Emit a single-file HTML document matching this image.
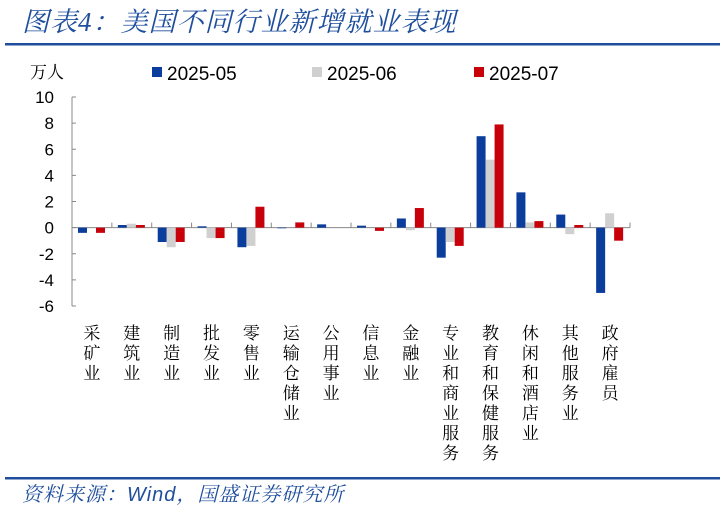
<!DOCTYPE html>
<html><head><meta charset="utf-8"><style>
body{margin:0;background:#fff;}
.sans{font-family:"Liberation Sans","Noto Sans CJK SC",sans-serif;}
.serif{font-family:"Liberation Serif","Noto Serif CJK SC",serif;}
</style></head><body>
<svg id="c" width="720" height="507" xmlns="http://www.w3.org/2000/svg">
<text class="serif" x="22" y="31" font-size="27" font-style="italic" fill="#1f4e9c" letter-spacing="1">图表4：美国不同行业新增就业表现</text>
<rect x="5" y="43" width="715" height="2.5" fill="#1f4e9c"/>
<text class="serif" x="30" y="78" font-size="17">万人</text>
<g id="legend"></g>
<g id="axes"></g>
<g id="bars"></g>
<g id="labels"></g>
<rect x="5" y="477" width="715" height="2.5" fill="#1f4e9c"/>
<text class="serif" x="22" y="501" font-size="20" font-style="italic" fill="#1f4e9c" letter-spacing="1">资料来源：<tspan class="sans">Wind</tspan>，国盛证券研究所</text>
</svg>
<script>
const categories=["采矿业","建筑业","制造业","批发业","零售业","运输仓储业","公用事业","信息业","金融业","专业和商业服务","教育和保健服务","休闲和酒店业","其他服务业","政府雇员"];
const series05=[-0.4,0.2,-1.1,0.1,-1.5,-0.05,0.25,0.15,0.7,-2.3,7.0,2.7,1.0,-5.0];
const series06=[0,0.3,-1.5,-0.8,-1.4,0,0,0,-0.2,-1.1,5.2,0.4,-0.5,1.1];
const series07=[-0.4,0.2,-1.1,-0.8,1.6,0.4,0,-0.25,1.5,-1.4,7.9,0.5,0.2,-1.0];
const seriesNames=["2025-05","2025-06","2025-07"];
const yTicks=[10,8,6,4,2,0,-2,-4,-6];
const colors=["#0b3d9c","#d0d0d0","#c8000a"];
const NS="http://www.w3.org/2000/svg";
const x0=72,x1=630,yTop=97,yBot=306,yMax=10,yMin=-6;
const y=v=>yTop+(yMax-v)*(yBot-yTop)/(yMax-yMin);
const gw=(x1-x0)/categories.length;
const xg=i=>x0+i*gw;
function mk(tag,attrs,parent){const e=document.createElementNS(NS,tag);for(const k in attrs)e.setAttribute(k,attrs[k]);document.getElementById(parent).appendChild(e);return e;}
let e=mk('line',{x1:x0,x2:x0,y1:yTop,y2:yBot,stroke:'#888','stroke-width':1},'axes');


yTicks.forEach(t=>{
 let l=mk('line',{x1:x0,x2:x0+4,y1:y(t),y2:y(t),stroke:'#888'},'axes');
 
 
 let tx=mk('text',{x:x0-18,y:y(t)+6,'font-size':17,'text-anchor':'end','class':'sans'},'axes');
 tx.textContent=t;
 
 
});
let za=mk('line',{x1:x0,x2:x1,y1:y(0),y2:y(0),stroke:'#888'},'axes');


for(let i=1;i<=categories.length;i++){
 let l=mk('line',{x1:xg(i),x2:xg(i),y1:y(0),y2:y(0)-5,stroke:'#888'},'axes');
 
 
}
const all=[series05,series06,series07];
const bw=9,off=6;
categories.forEach((c,i)=>{
 all.forEach((s,k)=>{
  const v=s[i];
  const r=mk('rect',{x:xg(i)+off+k*bw,y:Math.min(y(v),y(0)),width:bw,height:Math.abs(y(v)-y(0)),fill:colors[k]},'bars');
  
  
 });
 const cx=xg(i)+gw/2;
 const t=mk('text',{'font-size':17,'text-anchor':'middle','class':'serif'},'labels');
 
 
 [...c].forEach((ch,j)=>{const ts=document.createElementNS(NS,'tspan');ts.setAttribute('x',cx);ts.setAttribute('y',339+j*20);ts.textContent=ch;t.appendChild(ts);});
});
const lx=[152,312,474];
seriesNames.forEach((n,k)=>{
 const r=mk('rect',{x:lx[k],y:67,width:10,height:10,fill:colors[k]},'legend');
 
 
 const t=mk('text',{x:lx[k]+15,y:80,'font-size':19,'class':'sans'},'legend');
 t.textContent=n;
 
 
});
</script>
</body></html>
